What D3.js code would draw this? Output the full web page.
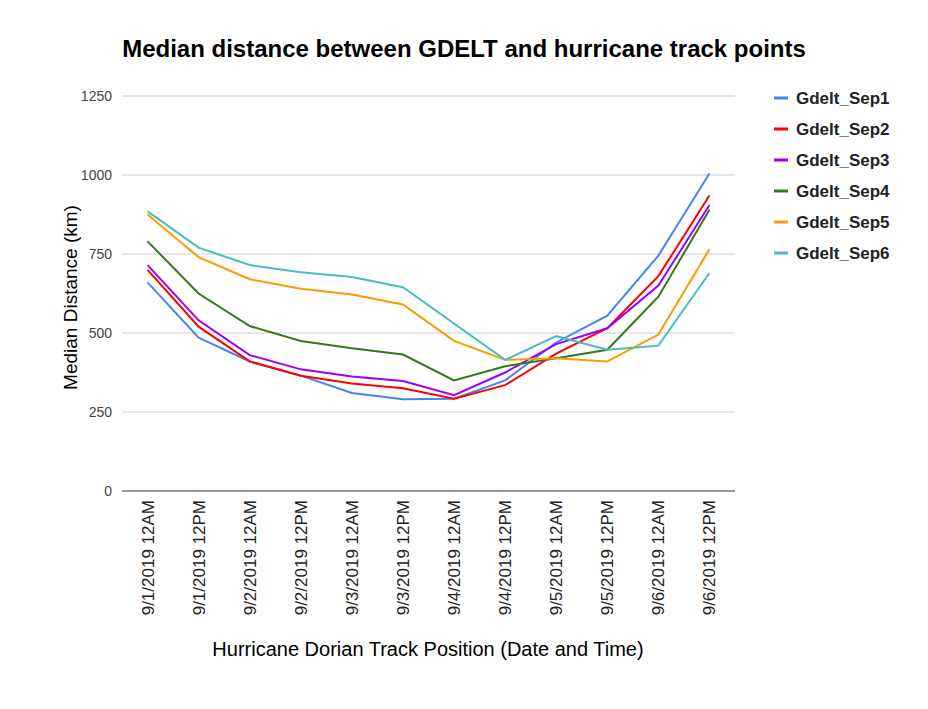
<!DOCTYPE html>
<html><head><meta charset="utf-8">
<script src="https://cdn.jsdelivr.net/npm/d3@7"></script>
<style>body{margin:0;background:#fff;font-family:Arial,"Liberation Sans",sans-serif}</style>
</head><body>
<svg id="chart" width="928" height="709"></svg>
<script>
var categories = ['9/1/2019 12AM','9/1/2019 12PM','9/2/2019 12AM','9/2/2019 12PM','9/3/2019 12AM','9/3/2019 12PM',
                  '9/4/2019 12AM','9/4/2019 12PM','9/5/2019 12AM','9/5/2019 12PM','9/6/2019 12AM','9/6/2019 12PM'];
var seriesNames = ['Gdelt_Sep1','Gdelt_Sep2','Gdelt_Sep3','Gdelt_Sep4','Gdelt_Sep5','Gdelt_Sep6'];
var sep1 = [660, 485, 410, 365, 310, 290, 292, 350, 470, 555, 745, 1005];
var sep2 = [700, 520, 410, 365, 340, 325, 292, 335, 435, 515, 680, 935];
var sep3 = [715, 540, 430, 385, 362, 348, 303, 375, 465, 515, 650, 905];
var sep4 = [790, 625, 522, 475, 452, 432, 350, 395, 420, 447, 615, 890];
var sep5 = [875, 740, 670, 640, 622, 590, 475, 415, 420, 410, 495, 765];
var sep6 = [885, 770, 715, 692, 677, 645, 530, 415, 490, 447, 460, 690];
var yTicks = [0, 250, 500, 750, 1000, 1250];
var colors = ['#4285f4','#ff0000','#9900ff','#38761d','#ff9900','#46bdc6'];

var series = [sep1, sep2, sep3, sep4, sep5, sep6];
var svg = d3.select('#chart');
var pLeft = 122, pRight = 735, pTop = 96, pBottom = 491;

var x = d3.scalePoint().domain(categories).range([pLeft, pRight]).padding(0.5);
var y = d3.scaleLinear().domain([0, 1250]).range([pBottom, pTop]);

// grid
svg.append('g').selectAll('line').data(yTicks).enter().append('line')
  .attr('x1', pLeft).attr('x2', pRight)
  .attr('y1', function(d) { return y(d); }).attr('y2', function(d) { return y(d); })
  .attr('stroke', function(d) { return d === 0 ? '#333' : '#ccc'; }).attr('stroke-width', 1);

svg.append('g').selectAll('text').data(yTicks).enter().append('text')
  .attr('x', pLeft - 10).attr('y', function(d) { return y(d) + 5; })
  .attr('text-anchor', 'end').attr('font-size', 14).attr('fill', '#444')
  .text(function(d) { return d; });

svg.append('g').selectAll('text').data(categories).enter().append('text')
  .attr('transform', function(d) { return 'translate(' + (x(d) + 6) + ',' + (pBottom + 9) + ') rotate(-90)'; })
  .attr('text-anchor', 'end').attr('font-size', 17).attr('fill', '#222')
  .text(function(d) { return d; });

var line = d3.line().x(function(d, i) { return x(categories[i]); }).y(function(d) { return y(d); });
svg.append('g').selectAll('path').data(series).enter().append('path')
  .attr('d', line).attr('fill', 'none').attr('stroke-width', 2)
  .attr('stroke', function(d, i) { return colors[i]; });

svg.append('text').attr('x', 464).attr('y', 57).attr('text-anchor', 'middle')
  .attr('font-size', 24).attr('font-weight', 'bold').text('Median distance between GDELT and hurricane track points');
svg.append('text').attr('transform', 'translate(77,' + ((pTop + pBottom) / 2 + 4) + ') rotate(-90)')
  .attr('text-anchor', 'middle').attr('font-size', 19).text('Median Distance (km)');
svg.append('text').attr('x', 428).attr('y', 656).attr('text-anchor', 'middle')
  .attr('font-size', 20).text('Hurricane Dorian Track Position (Date and Time)');

var leg = svg.append('g').selectAll('g').data(seriesNames).enter().append('g')
  .attr('transform', function(d, i) { return 'translate(774,' + (98 + i * 31) + ')'; });
leg.append('line').attr('x1', 0).attr('x2', 14).attr('stroke-width', 3)
  .attr('stroke', function(d, i) { return colors[i]; });
leg.append('text').attr('x', 22).attr('y', 6).attr('font-size', 17).attr('font-weight', 'bold')
  .attr('fill', '#222').text(function(d) { return d; });
</script>
</body></html>
